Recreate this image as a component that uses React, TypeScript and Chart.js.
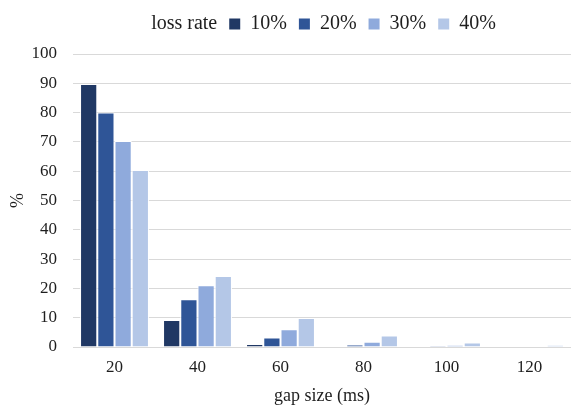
import React, { useEffect, useRef } from "react";
import { Chart, registerables } from "chart.js";

Chart.register(...registerables);

const categories = ["20", "40", "60", "80", "100", "120"];
const seriesNames = ["10%", "20%", "30%", "40%"];
const loss10 = [89.8, 9.2, 1.0, 0.1, 0.0, 0.0];
const loss20 = [80.0, 16.3, 3.2, 0.8, 0.3, 0.1];
const loss30 = [70.3, 21.1, 6.1, 1.8, 0.6, 0.2];
const loss40 = [60.4, 24.2, 9.9, 3.9, 1.5, 0.6];
const colors = ["#203864", "#2F5597", "#8FAADC", "#B4C7E7"];
const legendTitle = "loss rate";
const xTitle = "gap size (ms)";
const yTitle = "%";

const FONT = "'Liberation Serif', 'DejaVu Serif', serif";
const TEXT = "#1e1e1e";
const GRID = "#d9d9d9";

const legendTweak = {
  id: "legendTweak",
  beforeLayout(chart: any) {
    const lg = chart.legend;
    if (lg && !lg._patched) {
      const orig = lg.fit.bind(lg);
      lg.fit = function () {
        orig();
        this.height += 10;
      };
      lg._patched = true;
    }
  },
  afterLayout(chart: any) {
    const lg = chart.legend;
    if (lg) {
      lg.left -= 9;
      lg.right -= 9;
    }
  },
};

export default function App() {
  const ref = useRef<HTMLCanvasElement | null>(null);
  useEffect(() => {
    if (!ref.current) return;
    const values = [loss10, loss20, loss30, loss40];
    const chart = new Chart(ref.current, {
      type: "bar",
      plugins: [legendTweak],
      data: {
        labels: categories,
        datasets: values.map((v, i) => ({
          label: seriesNames[i],
          data: v,
          backgroundColor: colors[i],
          borderColor: "#ffffff",
          borderWidth: 1,
          barPercentage: 1,
          categoryPercentage: 0.83,
        })),
      },
      options: {
        responsive: false,
        animation: false,
        layout: { padding: { top: 2, left: 0, right: 0, bottom: 0 } },
        plugins: {
          tooltip: { enabled: false },
          legend: {
            position: "top",
            fullSize: false,
            align: "center",
            labels: {
              boxWidth: 11,
              boxHeight: 11,
              padding: 12,
              color: TEXT,
              font: { family: FONT, size: 20 },
              generateLabels: (ch: any) => {
                const base = Chart.defaults.plugins.legend.labels.generateLabels(ch).map((it: any) => ({
                  ...it,
                  strokeStyle: it.fillStyle,
                  lineWidth: 0,
                }));
                return [
                  {
                    text: legendTitle,
                    fillStyle: "rgba(0,0,0,0)",
                    strokeStyle: "rgba(0,0,0,0)",
                    lineWidth: 0,
                    hidden: false,
                    fontColor: TEXT,
                    datasetIndex: -1,
                  },
                  ...base,
                ];
              },
            },
          },
        },
        scales: {
          x: {
            grid: { display: false, drawTicks: false },
            border: { display: true, color: GRID, width: 1 },
            ticks: { color: TEXT, font: { family: FONT, size: 17 }, padding: 10, maxRotation: 0 },
            title: { display: true, text: xTitle, color: TEXT, font: { family: FONT, size: 18 }, padding: { top: 4, bottom: 4 } },
            afterFit: (s: any) => {
              s.height = 64;
            },
          },
          y: {
            min: 0,
            max: 100,
            grid: { color: GRID, drawTicks: false },
            border: { display: false },
            ticks: { stepSize: 10, color: TEXT, font: { family: FONT, size: 17 }, padding: 16 },
            title: { display: true, text: yTitle, color: TEXT, font: { family: FONT, size: 18 }, padding: { top: 7, bottom: 4 } },
            afterFit: (s: any) => {
              s.width = 73;
            },
          },
        },
      },
    });
    return () => chart.destroy();
  }, []);
  return (
    <div style={{ position: "absolute", left: 0, top: 0, width: 571, height: 411, background: "#fff" }}>
      <canvas ref={ref} width={571} height={411} style={{ display: "block", width: 571, height: 411 }} />
    </div>
  );
}
